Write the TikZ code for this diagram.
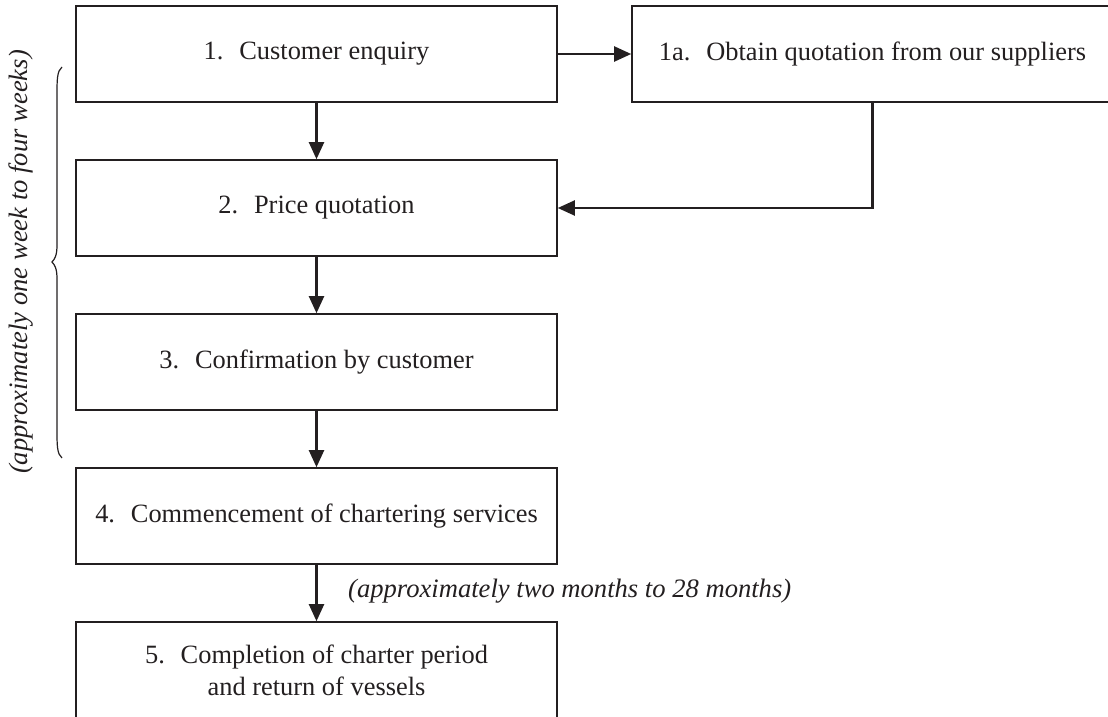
\documentclass[tikz,border=0pt]{standalone}
\usepackage{fontspec}
\setmainfont{Liberation Serif}
\usetikzlibrary{arrows.meta}
\definecolor{ink}{RGB}{35,31,32}
\begin{document}
\begin{tikzpicture}[x=1pt,y=-1pt,
  stepbox/.style={draw=ink, line width=1.6pt, minimum width=481pt, minimum height=96pt, inner sep=0pt, align=center, text=ink, font=\fontsize{26.4}{32}\selectfont},
  conn/.style={draw=ink, line width=2.1pt, -{Triangle[length=17pt,width=15pt]}},
  note/.style={text=ink, font=\fontsize{26.6}{32}\selectfont\itshape, inner sep=0pt}]
\clip (0,0) rectangle (1108,717);
\node[stepbox] (b1) at (316.5,54) {1.\hspace{0.6em}Customer enquiry};
\node[stepbox] (b1a) at (872.5,54) {1a.\hspace{0.6em}Obtain quotation from our suppliers};
\node[stepbox] (b2) at (316.5,208) {2.\hspace{0.6em}Price quotation};
\node[stepbox] (b3) at (316.5,362) {3.\hspace{0.6em}Confirmation by customer};
\node[stepbox] (b4) at (316.5,516) {4.\hspace{0.6em}Commencement of chartering services};
\node[stepbox] (b5) at (316.5,670) {5.\hspace{0.6em}Completion of charter period\\and return of vessels};
\draw[conn] (b1.east) -- (b1a.west);
\draw[conn] (b1.south) -- (b2.north);
\draw[conn] (b1a.south) |- (b2.east);
\draw[conn] (b2.south) -- (b3.north);
\draw[conn] (b3.south) -- (b4.north);
\draw[conn] (b4.south) -- (b5.north);
\node[note, anchor=base west] (n2) at (348,597) {(approximately two months to 28 months)};
\node[note, rotate=90] (n1) at (21,262) {(approximately one week to four weeks)};
\draw[ink, line width=1.2pt] (62,67) .. controls (57,71) and (57,80) .. (57,95) -- (57,245) .. controls (57,255) and (55,259) .. (52,262) .. controls (55,265) and (57,269) .. (57,279) -- (57,430) .. controls (57,445) and (57,454) .. (62,458);
\end{tikzpicture}
\end{document}
